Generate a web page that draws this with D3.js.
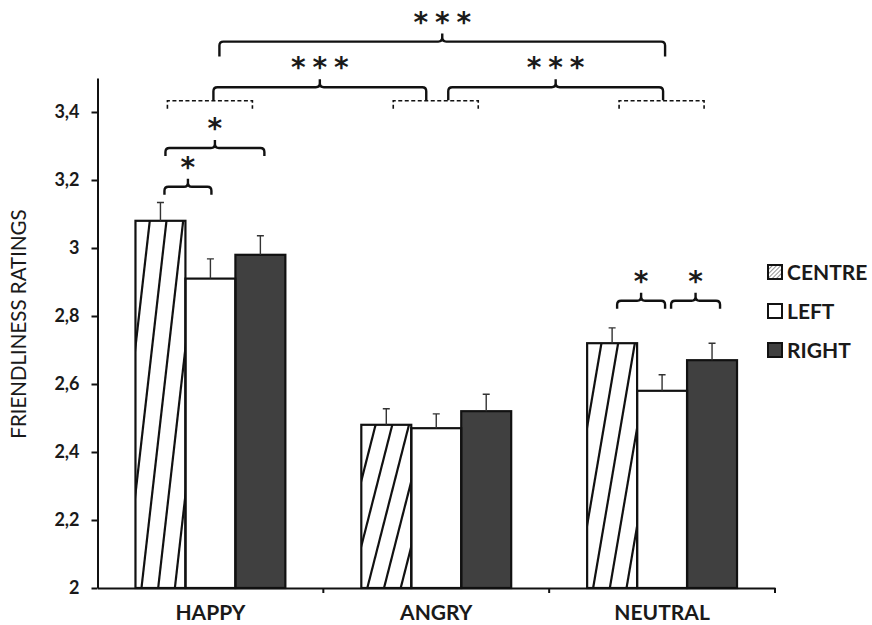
<!DOCTYPE html>
<html>
<head>
<meta charset="utf-8">
<script src="https://cdn.jsdelivr.net/npm/d3@7"></script>
<style>
  body { margin: 0; background: #fff; }
  text { font-family: Lato, "Open Sans", sans-serif; fill: #1a1a1a; }
</style>
</head>
<body>
<div id="chart"></div>
<script>
var categories = ["HAPPY", "ANGRY", "NEUTRAL"];
var series = ["CENTRE", "LEFT", "RIGHT"];

var centreMeans = [3.08, 2.48, 2.72];
var leftMeans   = [2.91, 2.47, 2.58];
var rightMeans  = [2.98, 2.52, 2.67];

var centreErr = [0.054, 0.047, 0.045];
var leftErr   = [0.058, 0.042, 0.047];
var rightErr  = [0.056, 0.050, 0.050];

var yTicks = [2, 2.2, 2.4, 2.6, 2.8, 3, 3.2, 3.4];

// significance brackets inside a group (between two bars)
var barBrackets = [
  {group: "HAPPY",   from: "CENTRE", to: "LEFT",  level: 3.18,  label: "*", nudge: [4, 1]},
  {group: "HAPPY",   from: "CENTRE", to: "RIGHT", level: 3.294, label: "*", nudge: [5, 4]},
  {group: "NEUTRAL", from: "CENTRE", to: "LEFT",  level: 2.845, label: "*", nudge: [5, 3]},
  {group: "NEUTRAL", from: "LEFT",   to: "RIGHT", level: 2.845, label: "*", nudge: [9, 8]}
];
// brackets between groups
var groupBrackets = [
  {from: "HAPPY", to: "ANGRY",   level: 3.473, label: "***", nudge: [3, -10], leg: 13},
  {from: "ANGRY", to: "NEUTRAL", level: 3.473, label: "***", nudge: [12, 1],  leg: 13},
  {from: "HAPPY", to: "NEUTRAL", level: 3.607, label: "***", nudge: [9, 3],   leg: 15}
];
var groupSpanLevel = 3.433;

var means = {CENTRE: centreMeans, LEFT: leftMeans, RIGHT: rightMeans};
var errs = {CENTRE: centreErr, LEFT: leftErr, RIGHT: rightErr};
var fills = {CENTRE: "#fff", LEFT: "#fff", RIGHT: "#404040"};

var width = 872, height = 625;
var svg = d3.select("#chart").append("svg")
    .attr("width", width)
    .attr("height", height);

var defs = svg.append("defs");
var pat = defs.append("pattern")
    .attr("id", "legHatch")
    .attr("patternUnits", "userSpaceOnUse")
    .attr("width", 3).attr("height", 3)
    .attr("patternTransform", "rotate(45)");
pat.append("rect").attr("width", 3).attr("height", 3).attr("fill", "#fff");
pat.append("line").attr("x1", 0).attr("y1", 0).attr("x2", 0).attr("y2", 3)
    .attr("stroke", "#777").attr("stroke-width", 1.6);

var x0 = d3.scaleBand().domain(categories).range([97.5, 775]).padding(0);
var x1 = d3.scaleBand().domain(series).range([0, x0.bandwidth()])
    .paddingInner(0).paddingOuter(0.76);
var y = d3.scaleLinear().domain([2, 3.5]).range([588, 78]);

var fmt = function(d) { return String(d).replace(".", ","); };

// y axis
var yAxisG = svg.append("g")
    .attr("transform", "translate(97.5,0)")
    .call(d3.axisLeft(y).tickValues(yTicks).tickSize(6).tickSizeOuter(0)
        .tickPadding(12).tickFormat(fmt));
yAxisG.selectAll("path, line").attr("stroke", "#111").attr("stroke-width", 2);
yAxisG.selectAll("text")
    .style("font-size", "18px").style("font-weight", "bold")
    .style("font-family", "Lato, sans-serif").attr("fill", "#1a1a1a");

svg.append("text")
    .attr("transform", "translate(26," + 324 + ") rotate(-90)")
    .attr("text-anchor", "middle")
    .style("font-size", "20.5px")
    .text("FRIENDLINESS RATINGS");

// bars
var groups = svg.selectAll(".grp")
    .data(categories)
    .join("g")
    .attr("class", "grp")
    .attr("transform", function(d) { return "translate(" + x0(d) + ",0)"; });

var barData = function(c, i) {
  return series.map(function(s) { return {cat: c, s: s, v: means[s][i], e: errs[s][i]}; });
};

groups.each(function(c, i) {
  var g = d3.select(this);
  var rows = barData(c, i);

  // centre bars get the stretched diagonal hatch
  rows.forEach(function(d) {
    var bx = x1(d.s), bw = x1.bandwidth(), top = y(d.v), bot = y(2);
    g.append("rect")
        .attr("x", bx).attr("y", top)
        .attr("width", bw).attr("height", bot - top)
        .attr("fill", fills[d.s]);
    if (d.s === "CENTRE") {
      var cid = "clip-" + i;
      defs.append("clipPath").attr("id", cid)
        .append("rect")
        .attr("x", x0(c) + bx).attr("y", top)
        .attr("width", bw).attr("height", bot - top);
      var hg = svg.append("g").attr("clip-path", "url(#" + cid + ")");
      d3.range(-3, 4).forEach(function(k) {
        var xa = x0(c) + bx + 6 + k * 16.7;
        hg.append("line")
            .attr("x1", xa).attr("y1", bot)
            .attr("x2", xa + 41.7).attr("y2", top)
            .attr("stroke", "#111").attr("stroke-width", 2.2);
      });
    }
  });
});

// bar outlines and error bars on top
groups.each(function(c, i) {
  var g = d3.select(this);
  var rows = barData(c, i);
  g.selectAll(".bar")
    .data(rows)
    .join("rect")
    .attr("class", "bar")
    .attr("x", function(d) { return x1(d.s); })
    .attr("y", function(d) { return y(d.v); })
    .attr("width", x1.bandwidth())
    .attr("height", function(d) { return y(2) - y(d.v); })
    .attr("fill", "none")
    .attr("stroke", "#111")
    .attr("stroke-width", 2.2);

  g.selectAll(".err")
    .data(rows)
    .join("path")
    .attr("class", "err")
    .attr("d", function(d) {
      var cx = x1(d.s) + x1.bandwidth() / 2;
      return "M" + cx + "," + y(d.v) + "V" + y(d.v + d.e) +
             "M" + (cx - 3.5) + "," + y(d.v + d.e) + "H" + (cx + 3.5);
    })
    .attr("stroke", "#333")
    .attr("stroke-width", 1.4)
    .attr("fill", "none");
});

// x axis
var xAxisG = svg.append("g")
    .attr("transform", "translate(0," + y(2) + ")")
    .call(d3.axisBottom(x0).tickSize(0).tickSizeOuter(0).tickPadding(17));
xAxisG.select(".domain").attr("stroke", "#111").attr("stroke-width", 2);
xAxisG.selectAll("text")
    .style("font-size", "21px").style("font-weight", "bold")
    .style("font-family", "Lato, sans-serif").attr("fill", "#1a1a1a");
xAxisG.selectAll(".bound")
    .data(categories)
    .join("line")
    .attr("class", "bound")
    .attr("x1", function(d) { return x0(d) + x0.bandwidth(); })
    .attr("x2", function(d) { return x0(d) + x0.bandwidth(); })
    .attr("y1", 0).attr("y2", 5)
    .attr("stroke", "#111").attr("stroke-width", 2);

// brackets
var brace = function(xa, xb, yh, leg, tick) {
  var r = 4, cx = (xa + xb) / 2;
  return "M" + xa + "," + (yh + leg) + "L" + xa + "," + (yh + r) +
    "Q" + xa + "," + yh + " " + (xa + r) + "," + yh +
    "L" + (cx - r) + "," + yh + "Q" + cx + "," + yh + " " + cx + "," + (yh - r) +
    "L" + cx + "," + (yh - tick) +
    "M" + cx + "," + (yh - r) + "Q" + cx + "," + yh + " " + (cx + r) + "," + yh +
    "L" + (xb - r) + "," + yh + "Q" + xb + "," + yh + " " + xb + "," + (yh + r) +
    "L" + xb + "," + (yh + leg);
};

var stars = function(cx, yc, label) {
  var n = label.length;
  d3.range(n).forEach(function(i) {
    svg.append("text")
        .attr("x", cx + (i - (n - 1) / 2) * 21.5)
        .attr("y", yc + 16)
        .attr("text-anchor", "middle")
        .style("font-family", "'DejaVu Sans', sans-serif")
        .style("font-size", "28px")
        .style("font-weight", "bold")
        .attr("fill", "#1a1a1a")
        .text("*");
  });
};

var ann = svg.append("g").attr("fill", "none").attr("stroke", "#111");

barBrackets.forEach(function(b) {
  var xa = x0(b.group) + x1(b.from) + x1.bandwidth() / 2 + b.nudge[0];
  var xb = x0(b.group) + x1(b.to) + x1.bandwidth() / 2 + b.nudge[1];
  var yh = y(b.level);
  ann.append("path").attr("d", brace(xa, xb, yh, 8, 8)).attr("stroke-width", 2.4);
  stars((xa + xb) / 2, yh - 26, b.label);
});

categories.forEach(function(c) {
  var cx = x0(c) + x0.bandwidth() / 2, yh = y(groupSpanLevel);
  ann.append("path")
      .attr("d", "M" + (cx - 43) + "," + (yh + 8) + "V" + yh + "H" + (cx + 42) + "V" + (yh + 8))
      .attr("stroke-width", 1.6)
      .attr("stroke-dasharray", "4,2.5");
});

groupBrackets.forEach(function(b) {
  var xa = x0(b.from) + x0.bandwidth() / 2 + b.nudge[0];
  var xb = x0(b.to) + x0.bandwidth() / 2 + b.nudge[1];
  var yh = y(b.level);
  ann.append("path").attr("d", brace(xa, xb, yh, b.leg, 8)).attr("stroke-width", 2.4);
  stars((xa + xb) / 2, yh - 26, b.label);
});

// legend
var legend = svg.selectAll(".leg")
    .data(series)
    .join("g")
    .attr("class", "leg")
    .attr("transform", function(d, i) { return "translate(768," + (265 + i * 39) + ")"; });
legend.append("rect")
    .attr("width", 14).attr("height", 14)
    .attr("fill", function(d) { return d === "CENTRE" ? "url(#legHatch)" : fills[d]; })
    .attr("stroke", "#111").attr("stroke-width", 2);
legend.append("text")
    .attr("x", 19).attr("y", 14.5)
    .style("font-size", "21px").style("font-weight", "bold")
    .text(function(d) { return d; });
</script>
</body>
</html>
